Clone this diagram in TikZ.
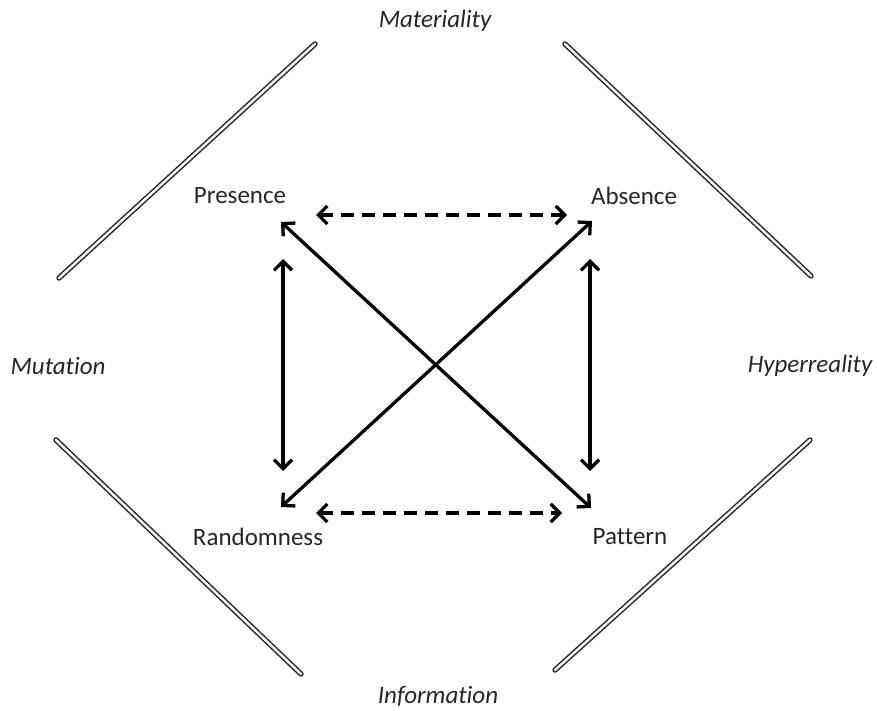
\documentclass[tikz,border=0pt]{standalone}
\usepackage{fontspec}
\setmainfont[Ligatures={NoCommon,NoRare}]{Carlito}
\usetikzlibrary{arrows.meta}
\begin{document}
\begin{tikzpicture}[x=1pt,y=-1pt,
  lbl/.style={font=\fontsize{25}{30}\selectfont, text=black!85, inner sep=0pt},
  ilbl/.style={font=\fontsize{25}{30}\selectfont\itshape, text=black!85, inner sep=0pt},
  arr/.style={line width=3.3pt, {Straight Barb[length=9pt,width=18pt,line width=3.3pt]}-{Straight Barb[length=9pt,width=18pt,line width=3.3pt]}},
  darr/.style={arr, dash pattern=on 13pt off 8pt},
  bar/.style={double=white, draw=black!85, line width=1.5pt, double distance=2.4pt, line cap=round}]
\useasboundingbox (0,0) rectangle (877,711);
\node[lbl] (pres) at (240,196) {Presence};
\node[lbl] (abs) at (634,196) {Absence};
\node[lbl] (rand) at (258,537) {Randomness};
\node[lbl] (pat) at (630,537) {Pattern};
\node[ilbl] (mat) at (435,21) {Materiality};
\node[ilbl] (mut) at (58,366) {Mutation};
\node[ilbl] (hyp) at (810,366) {Hyperreality};
\node[ilbl] (inf) at (438,696) {Information};
% connector end points
\coordinate (pt) at (316,215); \coordinate (at) at (567,215);
\coordinate (rt) at (316,513); \coordinate (ptt) at (562,513);
\coordinate (pv) at (283,259); \coordinate (rv) at (283,471);
\coordinate (av) at (590,259); \coordinate (pav) at (590,471);
\coordinate (pd) at (281,222); \coordinate (pad) at (591,508);
\coordinate (ad) at (592,221); \coordinate (rd) at (281,507);
\draw[darr] (pt) -- (at);
\draw[darr] (rt) -- (ptt);
\draw[arr] (pv) -- (rv);
\draw[arr] (av) -- (pav);
\draw[arr] (pd) -- (pad);
\draw[arr] (ad) -- (rd);
% bars
\coordinate (b1a) at (59,278); \coordinate (b1b) at (315,44);
\coordinate (b2a) at (565,44); \coordinate (b2b) at (811,276);
\coordinate (b3a) at (56,440); \coordinate (b3b) at (301,674);
\coordinate (b4a) at (555,670); \coordinate (b4b) at (810,440);
\draw[bar] (b1a) -- (b1b);
\draw[bar] (b2a) -- (b2b);
\draw[bar] (b3a) -- (b3b);
\draw[bar] (b4a) -- (b4b);
\end{tikzpicture}
\end{document}
